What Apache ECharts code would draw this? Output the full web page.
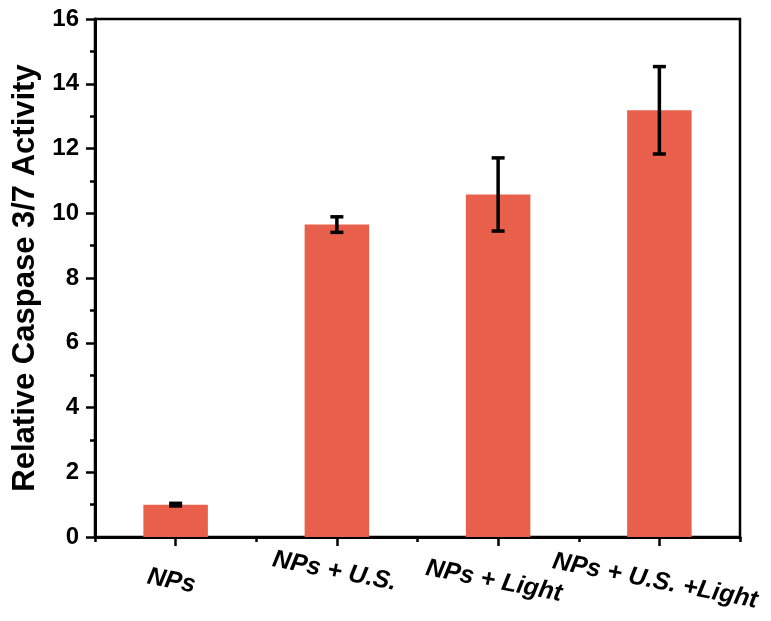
<!DOCTYPE html>
<html>
<head>
<meta charset="utf-8">
<script src="https://cdn.jsdelivr.net/npm/echarts@6/dist/echarts.min.js"></script>
<style>html,body{margin:0;padding:0;background:#fff}#c{width:771px;height:621px}</style>
</head>
<body>
<div id="c"></div>
<script>
const categories = ['NPs', 'NPs + U.S.', 'NPs + Light', 'NPs + U.S. +Light'];
const values = [1.0, 9.65, 10.58, 13.18];
const errors = [0.04, 0.24, 1.13, 1.35];
const yTicks = [0, 2, 4, 6, 8, 10, 12, 14, 16];

const FONT = 'Arial, "Liberation Sans", sans-serif';
const errData = values.map((v, i) => [i, v - errors[i], v + errors[i]]);
const richStyle = (top) => ({ padding: [top, 0, 0, 0], fontFamily: FONT, fontWeight: 'bold', fontStyle: 'italic', fontSize: 25, color: '#000' });

const chart = echarts.init(document.getElementById('c'));
chart.setOption({
  animation: false,
  backgroundColor: '#fff',
  grid: { left: 95, right: 31, top: 19, bottom: 84, show: true, borderColor: '#000', borderWidth: 2.5, backgroundColor: 'transparent' },
  xAxis: [{
    type: 'category',
    data: categories,
    position: 'bottom',
    axisLine: { lineStyle: { color: '#000', width: 3 } },
    axisTick: { show: true, interval: 0, alignWithLabel: true, length: 9, lineStyle: { color: '#000', width: 2.5 } },
    axisLabel: {
      interval: 0,
      hideOverlap: false,
      rotate: -11,
      align: 'center',
      verticalAlign: 'top',
      margin: 22,
      color: '#000',
      fontFamily: FONT,
      fontWeight: 'bold',
      fontStyle: 'italic',
      fontSize: 25,
      formatter: (v, i) => '{s' + i + '|' + v + '}',
      rich: { s0: richStyle(10), s1: richStyle(0), s2: richStyle(10), s3: richStyle(10) }
    },
    splitLine: { show: false }
  }, {
    type: 'category',
    data: categories,
    position: 'bottom',
    axisLine: { show: false },
    axisTick: { show: true, interval: 0, alignWithLabel: false, length: 5, lineStyle: { color: '#000', width: 2.5 } },
    axisLabel: { show: false, interval: 0 },
    splitLine: { show: false }
  }],
  yAxis: {
    type: 'value',
    min: yTicks[0],
    max: yTicks[yTicks.length - 1],
    interval: 2,
    name: 'Relative Caspase 3/7 Activity',
    nameLocation: 'middle',
    nameGap: 52,
    nameTextStyle: { color: '#000', fontFamily: FONT, fontWeight: 'bold', fontSize: 31 },
    axisLine: { show: true, lineStyle: { color: '#000', width: 3 } },
    axisTick: { show: true, length: 9, lineStyle: { color: '#000', width: 2.5 } },
    minorTick: { show: true, splitNumber: 2, length: 5, lineStyle: { color: '#000', width: 2.5 } },
    axisLabel: { margin: 16, color: '#000', fontFamily: FONT, fontWeight: 'bold', fontSize: 24 },
    splitLine: { show: false }
  },
  series: [{
    type: 'bar',
    data: values,
    barWidth: '40%',
    itemStyle: { color: '#E8604B' }
  }, {
    type: 'custom',
    data: errData,
    z: 10,
    renderItem: (params, api) => {
      const x = api.value(0);
      const lo = api.coord([x, api.value(1)]);
      const hi = api.coord([x, api.value(2)]);
      const hw = 6.5;
      const st = { stroke: '#000', lineWidth: 3.5 };
      return {
        type: 'group',
        children: [
          { type: 'line', shape: { x1: lo[0], y1: lo[1], x2: hi[0], y2: hi[1] }, style: st },
          { type: 'line', shape: { x1: lo[0] - hw, y1: lo[1], x2: lo[0] + hw, y2: lo[1] }, style: st },
          { type: 'line', shape: { x1: hi[0] - hw, y1: hi[1], x2: hi[0] + hw, y2: hi[1] }, style: st }
        ]
      };
    }
  }]
});
</script>
</body>
</html>
